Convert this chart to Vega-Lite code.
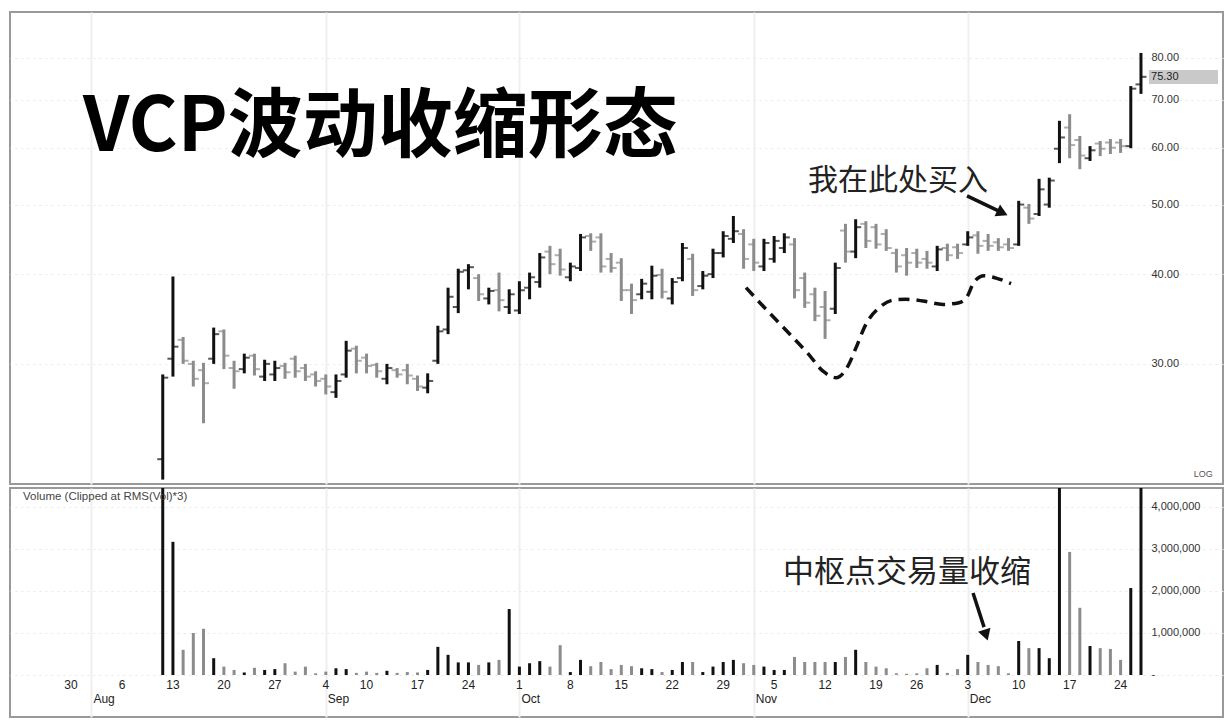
{
 "$schema": "https://vega.github.io/schema/vega-lite/v6.json",
 "padding": {"left": 9, "top": 11, "right": 0, "bottom": 0},
 "autosize": {"type": "pad"},
 "background": "white",
 "spacing": 0,
 "config": {
  "view": {"stroke": "#999999", "strokeWidth": 2},
  "font": "Liberation Sans",
  "axis": {"labelFont": "Liberation Sans", "labelColor": "#333333", "labelFontSize": 11, "title": null}
 },
 "datasets": {
  "bars": [
   {"d":"2007-08-10","i":9,"o":22.1,"h":29.0,"l":20.7,"c":28.7,"v":9800000,"dir":"up"},
   {"d":"2007-08-13","i":10,"o":30.5,"h":39.7,"l":28.8,"c":31.7,"v":3170000,"dir":"up"},
   {"d":"2007-08-14","i":11,"o":32.4,"h":32.7,"l":30.0,"c":30.3,"v":600000,"dir":"down"},
   {"d":"2007-08-15","i":12,"o":30.0,"h":30.3,"l":27.9,"c":28.6,"v":1000000,"dir":"down"},
   {"d":"2007-08-16","i":13,"o":29.4,"h":30.1,"l":24.8,"c":28.2,"v":1100000,"dir":"down"},
   {"d":"2007-08-17","i":14,"o":30.5,"h":33.7,"l":30.0,"c":33.0,"v":400000,"dir":"up"},
   {"d":"2007-08-20","i":15,"o":33.3,"h":33.5,"l":29.5,"c":30.8,"v":200000,"dir":"down"},
   {"d":"2007-08-21","i":16,"o":29.6,"h":30.3,"l":27.7,"c":29.3,"v":120000,"dir":"down"},
   {"d":"2007-08-22","i":17,"o":29.5,"h":31.0,"l":29.1,"c":30.6,"v":60000,"dir":"up"},
   {"d":"2007-08-23","i":18,"o":30.8,"h":31.0,"l":28.9,"c":29.5,"v":170000,"dir":"down"},
   {"d":"2007-08-24","i":19,"o":28.8,"h":30.4,"l":28.4,"c":30.0,"v":120000,"dir":"up"},
   {"d":"2007-08-27","i":20,"o":29.0,"h":30.3,"l":28.4,"c":29.6,"v":140000,"dir":"up"},
   {"d":"2007-08-28","i":21,"o":29.8,"h":30.1,"l":28.6,"c":29.2,"v":280000,"dir":"down"},
   {"d":"2007-08-29","i":22,"o":30.5,"h":30.8,"l":28.7,"c":29.3,"v":80000,"dir":"down"},
   {"d":"2007-08-30","i":23,"o":29.6,"h":30.0,"l":28.4,"c":28.8,"v":200000,"dir":"down"},
   {"d":"2007-08-31","i":24,"o":29.0,"h":29.3,"l":27.9,"c":28.4,"v":40000,"dir":"down"},
   {"d":"2007-09-04","i":25,"o":28.6,"h":29.0,"l":27.2,"c":27.9,"v":80000,"dir":"down"},
   {"d":"2007-09-05","i":26,"o":27.4,"h":29.0,"l":26.9,"c":28.4,"v":160000,"dir":"up"},
   {"d":"2007-09-06","i":27,"o":29.0,"h":32.3,"l":28.7,"c":31.3,"v":140000,"dir":"up"},
   {"d":"2007-09-07","i":28,"o":31.5,"h":31.8,"l":29.1,"c":30.3,"v":50000,"dir":"down"},
   {"d":"2007-09-10","i":29,"o":30.6,"h":31.0,"l":29.1,"c":29.8,"v":80000,"dir":"down"},
   {"d":"2007-09-11","i":30,"o":29.9,"h":30.1,"l":28.7,"c":29.3,"v":50000,"dir":"down"},
   {"d":"2007-09-12","i":31,"o":28.6,"h":30.0,"l":28.1,"c":29.6,"v":100000,"dir":"up"},
   {"d":"2007-09-13","i":32,"o":29.4,"h":29.6,"l":28.7,"c":29.0,"v":50000,"dir":"down"},
   {"d":"2007-09-14","i":33,"o":29.4,"h":30.0,"l":28.1,"c":28.9,"v":70000,"dir":"down"},
   {"d":"2007-09-17","i":34,"o":28.6,"h":28.9,"l":27.5,"c":27.9,"v":60000,"dir":"down"},
   {"d":"2007-09-18","i":35,"o":27.8,"h":29.1,"l":27.3,"c":28.4,"v":120000,"dir":"up"},
   {"d":"2007-09-19","i":36,"o":30.3,"h":33.9,"l":30.0,"c":33.3,"v":670000,"dir":"up"},
   {"d":"2007-09-20","i":37,"o":33.5,"h":38.3,"l":33.0,"c":37.2,"v":480000,"dir":"up"},
   {"d":"2007-09-21","i":38,"o":36.0,"h":40.7,"l":35.3,"c":40.3,"v":300000,"dir":"up"},
   {"d":"2007-09-24","i":39,"o":40.5,"h":41.3,"l":38.1,"c":40.9,"v":300000,"dir":"up"},
   {"d":"2007-09-25","i":40,"o":39.5,"h":40.0,"l":36.7,"c":37.5,"v":240000,"dir":"down"},
   {"d":"2007-09-26","i":41,"o":37.0,"h":38.3,"l":36.3,"c":37.9,"v":300000,"dir":"up"},
   {"d":"2007-09-27","i":42,"o":38.0,"h":40.2,"l":35.5,"c":36.8,"v":360000,"dir":"down"},
   {"d":"2007-09-28","i":43,"o":36.0,"h":38.1,"l":35.2,"c":37.5,"v":1570000,"dir":"up"},
   {"d":"2007-10-01","i":44,"o":35.6,"h":39.1,"l":35.2,"c":38.0,"v":200000,"dir":"up"},
   {"d":"2007-10-02","i":45,"o":38.3,"h":40.2,"l":36.9,"c":39.6,"v":280000,"dir":"up"},
   {"d":"2007-10-03","i":46,"o":39.0,"h":42.8,"l":38.3,"c":42.2,"v":330000,"dir":"up"},
   {"d":"2007-10-04","i":47,"o":43.0,"h":43.8,"l":40.0,"c":41.3,"v":200000,"dir":"down"},
   {"d":"2007-10-05","i":48,"o":42.5,"h":43.4,"l":39.8,"c":40.6,"v":710000,"dir":"down"},
   {"d":"2007-10-08","i":49,"o":39.6,"h":41.5,"l":39.1,"c":41.0,"v":70000,"dir":"up"},
   {"d":"2007-10-09","i":50,"o":40.8,"h":45.5,"l":40.4,"c":45.0,"v":360000,"dir":"up"},
   {"d":"2007-10-10","i":51,"o":45.2,"h":45.6,"l":43.1,"c":44.4,"v":210000,"dir":"down"},
   {"d":"2007-10-11","i":52,"o":45.0,"h":45.6,"l":40.2,"c":41.0,"v":310000,"dir":"down"},
   {"d":"2007-10-12","i":53,"o":42.0,"h":42.8,"l":40.2,"c":40.8,"v":140000,"dir":"down"},
   {"d":"2007-10-15","i":54,"o":41.5,"h":42.1,"l":36.7,"c":38.0,"v":240000,"dir":"down"},
   {"d":"2007-10-16","i":55,"o":38.0,"h":38.8,"l":35.2,"c":36.8,"v":210000,"dir":"down"},
   {"d":"2007-10-17","i":56,"o":37.5,"h":39.4,"l":36.9,"c":38.8,"v":160000,"dir":"up"},
   {"d":"2007-10-18","i":57,"o":37.8,"h":41.1,"l":36.9,"c":39.8,"v":140000,"dir":"up"},
   {"d":"2007-10-19","i":58,"o":39.9,"h":40.7,"l":37.0,"c":37.8,"v":70000,"dir":"down"},
   {"d":"2007-10-22","i":59,"o":37.0,"h":39.5,"l":36.3,"c":39.0,"v":120000,"dir":"up"},
   {"d":"2007-10-23","i":60,"o":39.5,"h":44.2,"l":39.1,"c":43.5,"v":310000,"dir":"up"},
   {"d":"2007-10-24","i":61,"o":42.0,"h":42.7,"l":37.3,"c":38.0,"v":310000,"dir":"down"},
   {"d":"2007-10-25","i":62,"o":38.5,"h":40.4,"l":38.1,"c":39.8,"v":70000,"dir":"up"},
   {"d":"2007-10-26","i":63,"o":40.0,"h":43.4,"l":39.5,"c":42.8,"v":200000,"dir":"up"},
   {"d":"2007-10-29","i":64,"o":42.8,"h":45.9,"l":42.2,"c":45.2,"v":310000,"dir":"up"},
   {"d":"2007-10-30","i":65,"o":44.8,"h":48.2,"l":44.2,"c":45.9,"v":360000,"dir":"up"},
   {"d":"2007-10-31","i":66,"o":45.5,"h":46.2,"l":40.7,"c":42.0,"v":280000,"dir":"down"},
   {"d":"2007-11-01","i":67,"o":44.0,"h":44.8,"l":40.4,"c":41.5,"v":240000,"dir":"down"},
   {"d":"2007-11-02","i":68,"o":41.0,"h":44.8,"l":40.4,"c":44.2,"v":200000,"dir":"up"},
   {"d":"2007-11-05","i":69,"o":42.0,"h":45.2,"l":41.5,"c":44.5,"v":120000,"dir":"up"},
   {"d":"2007-11-06","i":70,"o":43.5,"h":45.6,"l":42.8,"c":45.0,"v":120000,"dir":"up"},
   {"d":"2007-11-07","i":71,"o":44.0,"h":44.9,"l":37.0,"c":38.0,"v":430000,"dir":"down"},
   {"d":"2007-11-08","i":72,"o":39.5,"h":40.2,"l":35.9,"c":36.5,"v":310000,"dir":"down"},
   {"d":"2007-11-09","i":73,"o":37.5,"h":38.3,"l":34.4,"c":35.0,"v":310000,"dir":"down"},
   {"d":"2007-11-12","i":74,"o":36.0,"h":37.9,"l":32.5,"c":34.5,"v":310000,"dir":"down"},
   {"d":"2007-11-13","i":75,"o":35.8,"h":41.5,"l":35.2,"c":40.8,"v":310000,"dir":"up"},
   {"d":"2007-11-14","i":76,"o":46.0,"h":47.0,"l":41.5,"c":43.0,"v":430000,"dir":"down"},
   {"d":"2007-11-15","i":77,"o":43.0,"h":47.7,"l":42.1,"c":46.5,"v":600000,"dir":"up"},
   {"d":"2007-11-16","i":78,"o":47.0,"h":47.4,"l":43.5,"c":44.5,"v":310000,"dir":"down"},
   {"d":"2007-11-19","i":79,"o":46.5,"h":47.0,"l":43.4,"c":44.0,"v":200000,"dir":"down"},
   {"d":"2007-11-20","i":80,"o":45.5,"h":46.2,"l":43.1,"c":43.5,"v":160000,"dir":"down"},
   {"d":"2007-11-21","i":81,"o":42.8,"h":43.4,"l":40.2,"c":41.0,"v":40000,"dir":"down"},
   {"d":"2007-11-23","i":82,"o":42.5,"h":43.5,"l":39.8,"c":41.5,"v":30000,"dir":"down"},
   {"d":"2007-11-26","i":83,"o":42.8,"h":43.4,"l":40.8,"c":41.5,"v":40000,"dir":"down"},
   {"d":"2007-11-27","i":84,"o":42.0,"h":43.1,"l":40.7,"c":41.5,"v":160000,"dir":"down"},
   {"d":"2007-11-28","i":85,"o":41.0,"h":43.8,"l":40.4,"c":43.3,"v":240000,"dir":"up"},
   {"d":"2007-11-29","i":86,"o":43.5,"h":44.1,"l":41.7,"c":42.5,"v":50000,"dir":"down"},
   {"d":"2007-11-30","i":87,"o":43.6,"h":44.1,"l":42.0,"c":42.8,"v":140000,"dir":"down"},
   {"d":"2007-12-03","i":88,"o":44.0,"h":45.9,"l":43.8,"c":45.0,"v":480000,"dir":"up"},
   {"d":"2007-12-04","i":89,"o":45.3,"h":45.9,"l":42.7,"c":43.8,"v":310000,"dir":"down"},
   {"d":"2007-12-05","i":90,"o":44.5,"h":45.5,"l":43.1,"c":43.8,"v":240000,"dir":"down"},
   {"d":"2007-12-06","i":91,"o":44.3,"h":44.9,"l":43.1,"c":43.6,"v":210000,"dir":"down"},
   {"d":"2007-12-07","i":92,"o":44.0,"h":44.9,"l":43.1,"c":43.5,"v":40000,"dir":"down"},
   {"d":"2007-12-10","i":93,"o":44.0,"h":50.6,"l":43.8,"c":50.0,"v":810000,"dir":"up"},
   {"d":"2007-12-11","i":94,"o":49.5,"h":50.1,"l":47.0,"c":47.8,"v":640000,"dir":"down"},
   {"d":"2007-12-12","i":95,"o":48.5,"h":54.3,"l":48.2,"c":52.5,"v":640000,"dir":"up"},
   {"d":"2007-12-13","i":96,"o":50.0,"h":54.5,"l":49.5,"c":54.0,"v":400000,"dir":"up"},
   {"d":"2007-12-14","i":97,"o":59.8,"h":65.4,"l":57.1,"c":62.0,"v":6000000,"dir":"up"},
   {"d":"2007-12-17","i":98,"o":64.0,"h":66.8,"l":58.0,"c":60.5,"v":2930000,"dir":"down"},
   {"d":"2007-12-18","i":99,"o":61.5,"h":62.3,"l":56.0,"c":58.5,"v":1600000,"dir":"down"},
   {"d":"2007-12-19","i":100,"o":58.0,"h":60.3,"l":57.5,"c":59.5,"v":690000,"dir":"up"},
   {"d":"2007-12-20","i":101,"o":60.8,"h":61.3,"l":58.4,"c":59.8,"v":640000,"dir":"down"},
   {"d":"2007-12-21","i":102,"o":61.0,"h":61.7,"l":58.8,"c":60.0,"v":620000,"dir":"down"},
   {"d":"2007-12-24","i":103,"o":61.0,"h":61.7,"l":59.0,"c":60.3,"v":360000,"dir":"down"},
   {"d":"2007-12-26","i":104,"o":60.3,"h":73.1,"l":59.9,"c":72.5,"v":2070000,"dir":"up"},
   {"d":"2007-12-27","i":105,"o":73.5,"h":81.3,"l":71.3,"c":75.3,"v":7500000,"dir":"up"}
  ],
  "curve": [
   {"i":66.24,"p":38.3},{"i":68.40,"p":35.5},{"i":70.36,"p":33.2},{"i":72.33,"p":31.0},
   {"i":73.80,"p":29.3},{"i":75.07,"p":28.7},{"i":76.25,"p":29.8},{"i":77.04,"p":31.6},
   {"i":78.02,"p":34.1},{"i":79.29,"p":35.9},{"i":80.67,"p":36.8},{"i":81.94,"p":36.9},
   {"i":83.61,"p":36.7},{"i":85.57,"p":36.3},{"i":87.14,"p":36.5},{"i":87.93,"p":37.2},
   {"i":88.62,"p":39.0},{"i":89.60,"p":39.8},{"i":90.78,"p":39.5},{"i":92.25,"p":38.8}
  ],
  "days": [
   {"i":0,"t":"30"},{"i":5,"t":"6"},{"i":10,"t":"13"},{"i":15,"t":"20"},{"i":20,"t":"27"},
   {"i":25,"t":"4"},{"i":29,"t":"10"},{"i":34,"t":"17"},{"i":39,"t":"24"},{"i":44,"t":"1"},
   {"i":49,"t":"8"},{"i":54,"t":"15"},{"i":59,"t":"22"},{"i":64,"t":"29"},{"i":69,"t":"5"},
   {"i":74,"t":"12"},{"i":79,"t":"19"},{"i":83,"t":"26"},{"i":88,"t":"3"},{"i":93,"t":"10"},
   {"i":98,"t":"17"},{"i":103,"t":"24"}
  ],
  "months": [
   {"i":2,"t":"Aug"},{"i":25,"t":"Sep"},{"i":44,"t":"Oct"},{"i":67,"t":"Nov"},{"i":88,"t":"Dec"}
  ]
 },
 "vconcat": [
  {
   "width": 1213,
   "height": 472,
   "layer": [
    {
     "data": {"name": "bars"},
     "mark": {"type": "rule", "strokeWidth": 3},
     "encoding": {
      "x": {"field": "i", "type": "quantitative",
            "scale": {"domain": [-5.99, 113.05], "nice": false, "zero": false},
            "axis": {"values": [2, 25, 44, 67, 88], "labels": false, "ticks": false, "domain": false,
                     "grid": true, "gridColor": "#efefef", "gridWidth": 2, "title": null}},
      "y": {"field": "l", "type": "quantitative",
            "scale": {"type": "log", "domain": [20.41, 92.7], "nice": false},
            "axis": {"orient": "right", "offset": -74, "values": [30, 40, 50, 60, 70, 80], "format": ".2f",
                     "domain": false, "ticks": false, "labelPadding": 2, "grid": true,
                     "gridColor": "#e8e8e8", "gridDash": [2, 4], "title": null}},
      "y2": {"field": "h"},
      "color": {"field": "dir", "type": "nominal",
                "scale": {"domain": ["up", "down"], "range": ["#111111", "#8c8c8c"]}, "legend": null}
     }
    },
    {
     "data": {"name": "bars"},
     "mark": {"type": "tick", "orient": "horizontal", "size": 5, "thickness": 2, "xOffset": -3},
     "encoding": {
      "x": {"field": "i", "type": "quantitative"},
      "y": {"field": "o", "type": "quantitative"},
      "color": {"field": "dir", "type": "nominal", "legend": null}
     }
    },
    {
     "data": {"name": "bars"},
     "mark": {"type": "tick", "orient": "horizontal", "size": 5, "thickness": 2, "xOffset": 3},
     "encoding": {
      "x": {"field": "i", "type": "quantitative"},
      "y": {"field": "c", "type": "quantitative"},
      "color": {"field": "dir", "type": "nominal", "legend": null}
     }
    },
    {
     "data": {"name": "curve"},
     "mark": {"type": "line", "interpolate": "monotone", "strokeDash": [11, 7], "strokeWidth": 3.5, "color": "#111111"},
     "encoding": {
      "x": {"field": "i", "type": "quantitative"},
      "y": {"field": "p", "type": "quantitative"}
     }
    },
    {
     "data": {"values": [{"i": 1.18, "p": 63.9, "t": "VCP波动收缩形态"}]},
     "mark": {"type": "text", "font": "Noto Sans CJK SC", "fontWeight": "bold", "fontSize": 75, "align": "left", "baseline": "middle", "color": "#000000"},
     "encoding": {
      "x": {"field": "i", "type": "quantitative"},
      "y": {"field": "p", "type": "quantitative"},
      "text": {"field": "t"}
     }
    },
    {
     "data": {"values": [{"i": 81.16, "p": 53.9, "t": "我在此处买入"}]},
     "mark": {"type": "text", "font": "Noto Sans CJK SC", "fontSize": 30, "align": "center", "baseline": "middle", "color": "#222222"},
     "encoding": {
      "x": {"field": "i", "type": "quantitative"},
      "y": {"field": "p", "type": "quantitative"},
      "text": {"field": "t"}
     }
    },
    {
     "data": {"values": [{"i": 87.93, "p": 51.4, "i2": 91.27, "p2": 48.8}]},
     "mark": {"type": "rule", "strokeWidth": 3.5, "color": "#111111"},
     "encoding": {
      "x": {"field": "i", "type": "quantitative"},
      "x2": {"field": "i2"},
      "y": {"field": "p", "type": "quantitative"},
      "y2": {"field": "p2"}
     }
    },
    {
     "data": {"values": [{"i": 91.4, "p": 48.7}]},
     "mark": {"type": "point", "shape": "triangle-right", "filled": true, "size": 170, "angle": 25, "color": "#111111", "opacity": 1},
     "encoding": {
      "x": {"field": "i", "type": "quantitative"},
      "y": {"field": "p", "type": "quantitative"}
     }
    },
    {
     "data": {"values": [{"i": 105.79, "i2": 112.56, "p": 77.0, "p2": 73.6}]},
     "mark": {"type": "rect", "color": "#c9c9c9"},
     "encoding": {
      "x": {"field": "i", "type": "quantitative"},
      "x2": {"field": "i2"},
      "y": {"field": "p", "type": "quantitative"},
      "y2": {"field": "p2"}
     }
    },
    {
     "data": {"values": [{"i": 105.99, "p": 75.3, "t": "75.30"}]},
     "mark": {"type": "text", "font": "Liberation Sans", "fontSize": 11, "align": "left", "baseline": "middle", "color": "#222222"},
     "encoding": {
      "x": {"field": "i", "type": "quantitative"},
      "y": {"field": "p", "type": "quantitative"},
      "text": {"field": "t"}
     }
    },
    {
     "data": {"values": [{"i": 111.1, "p": 21.07, "t": "LOG"}]},
     "mark": {"type": "text", "font": "Liberation Sans", "fontSize": 9, "align": "center", "baseline": "middle", "color": "#555555"},
     "encoding": {
      "x": {"field": "i", "type": "quantitative"},
      "y": {"field": "p", "type": "quantitative"},
      "text": {"field": "t"}
     }
    }
   ]
  },
  {
   "width": 1213,
   "height": 229,
   "layer": [
    {
     "data": {"name": "bars"},
     "mark": {"type": "rule", "strokeWidth": 3},
     "encoding": {
      "x": {"field": "i", "type": "quantitative",
            "scale": {"domain": [-5.99, 113.05], "nice": false, "zero": false},
            "axis": {"values": [2, 25, 44, 67, 88], "labels": false, "ticks": false, "domain": false,
                     "grid": true, "gridColor": "#efefef", "gridWidth": 2, "title": null}},
      "y": {"field": "v", "type": "quantitative",
            "scale": {"domain": [-1000000, 4452000], "nice": false, "zero": false, "clamp": true},
            "axis": {"orient": "right", "offset": -74, "values": [0, 1000000, 2000000, 3000000, 4000000],
                     "labelExpr": "datum.value == 0 ? '-' : format(datum.value, ',')",
                     "domain": false, "ticks": false, "labelPadding": 2, "grid": true,
                     "gridColor": "#e8e8e8", "gridDash": [2, 4], "title": null}},
      "y2": {"datum": 0},
      "color": {"field": "dir", "type": "nominal",
                "scale": {"domain": ["up", "down"], "range": ["#111111", "#8c8c8c"]}, "legend": null}
     }
    },
    {
     "data": {"name": "days"},
     "mark": {"type": "text", "font": "Liberation Sans", "fontSize": 12, "align": "center", "baseline": "middle", "color": "#222222"},
     "encoding": {
      "x": {"field": "i", "type": "quantitative"},
      "y": {"datum": -250000, "type": "quantitative"},
      "text": {"field": "t"}
     }
    },
    {
     "data": {"name": "months"},
     "mark": {"type": "text", "font": "Liberation Sans", "fontSize": 12, "align": "left", "dx": 2, "baseline": "middle", "color": "#222222"},
     "encoding": {
      "x": {"field": "i", "type": "quantitative"},
      "y": {"datum": -580000, "type": "quantitative"},
      "text": {"field": "t"}
     }
    },
    {
     "data": {"values": [{"i": -4.71, "v": 4238000, "t": "Volume (Clipped at RMS(Vol)*3)"}]},
     "mark": {"type": "text", "font": "Liberation Sans", "fontSize": 11.5, "align": "left", "baseline": "middle", "color": "#444444"},
     "encoding": {
      "x": {"field": "i", "type": "quantitative"},
      "y": {"field": "v", "type": "quantitative"},
      "text": {"field": "t"}
     }
    },
    {
     "data": {"values": [{"i": 82.04, "v": 2430000, "t": "中枢点交易量收缩"}]},
     "mark": {"type": "text", "font": "Noto Sans CJK SC", "fontSize": 31, "align": "center", "baseline": "middle", "color": "#222222"},
     "encoding": {
      "x": {"field": "i", "type": "quantitative"},
      "y": {"field": "v", "type": "quantitative"},
      "text": {"field": "t"}
     }
    },
    {
     "data": {"values": [{"i": 88.52, "v": 1952000, "i2": 89.6, "v2": 1140000}]},
     "mark": {"type": "rule", "strokeWidth": 3.5, "color": "#111111"},
     "encoding": {
      "x": {"field": "i", "type": "quantitative"},
      "x2": {"field": "i2"},
      "y": {"field": "v", "type": "quantitative"},
      "y2": {"field": "v2"}
     }
    },
    {
     "data": {"values": [{"i": 89.79, "v": 952000}]},
     "mark": {"type": "point", "shape": "triangle-right", "filled": true, "size": 170, "angle": 72, "color": "#111111", "opacity": 1},
     "encoding": {
      "x": {"field": "i", "type": "quantitative"},
      "y": {"field": "v", "type": "quantitative"}
     }
    }
   ]
  }
 ]
}
